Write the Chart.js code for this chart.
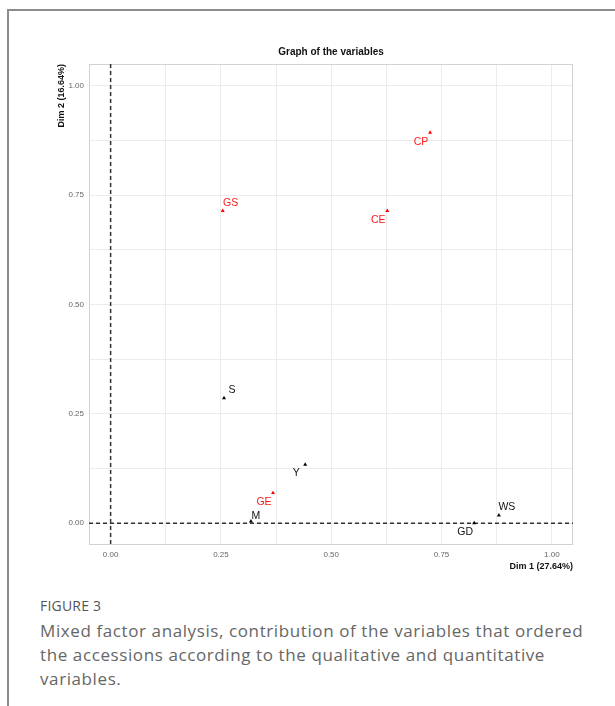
<!DOCTYPE html>
<html>
<head>
<meta charset="utf-8">
<script src="https://cdn.jsdelivr.net/npm/chart.js@4.4.0/dist/chart.umd.min.js"></script>
<style>
  body { margin: 0; background: #fff; width: 615px; height: 706px; overflow: hidden; position: relative; }
  #frame { position: absolute; left: 7px; top: 9px; width: 620px; height: 710px;
    border-left: 2px solid #8c8c8c; border-top: 2px solid #8c8c8c; }
  #chart { position: absolute; left: 0; top: 0; }
  #caption { position: absolute; left: 40px; top: 596px; width: 560px; font-family: "Open Sans", sans-serif; }
  #caption .fig { font-size: 14px; color: #555; line-height: 20px; letter-spacing: 0.2px; }
  #caption .txt { font-size: 17px; color: #666; line-height: 24px; margin-top: 3px; font-weight: 400; letter-spacing: 0.6px; }
</style>
</head>
<body>
<div id="frame"></div>
<canvas id="chart" width="615" height="580"></canvas>
<div id="caption">
  <div class="fig">FIGURE 3</div>
  <div class="txt">Mixed factor analysis, contribution of the variables that ordered the accessions according to the qualitative and quantitative variables.</div>
</div>
<script>
// quantitative variables (black)
const quantNames = ['S', 'Y', 'M', 'WS', 'GD'];
const quantDim1 = [0.257, 0.441, 0.318, 0.880, 0.824];
const quantDim2 = [0.286, 0.134, 0.004, 0.018, 0.000];

// qualitative variables (red)
const qualNames = ['GS', 'CP', 'CE', 'GE'];
const qualDim1 = [0.254, 0.724, 0.627, 0.368];
const qualDim2 = [0.714, 0.893, 0.714, 0.069];

const majorTicks = [0, 0.25, 0.5, 0.75, 1.0];
const gridTicks = [0, 0.125, 0.25, 0.375, 0.5, 0.625, 0.75, 0.875, 1.0];

function toPoints(xs, ys) {
  return xs.map(function (x, i) { return { x: x, y: ys[i] }; });
}

// where each label sits next to its point
const labelSide = { GS: 'ne', CP: 'sw', CE: 'sw', S: 'ne', Y: 'sw', GE: 'sw', M: 'near', WS: 'ne', GD: 'sw' };
const sideOffset = { ne: [8, -8], sw: [-9, 9], near: [5, -5] };

const axesPlugin = {
  id: 'axesPlugin',
  beforeDatasetsDraw(chart) {
    const ctx = chart.ctx;
    const a = chart.chartArea;
    const x0 = chart.scales.x.getPixelForValue(0);
    const y0 = chart.scales.y.getPixelForValue(0);
    ctx.save();
    ctx.strokeStyle = '#d2d2d2';
    ctx.lineWidth = 1;
    ctx.strokeRect(a.left + 0.5, a.top + 0.5, a.right - a.left - 1, a.bottom - a.top - 1);
    ctx.strokeStyle = '#333';
    ctx.lineWidth = 1.5;
    ctx.setLineDash([4, 3]);
    ctx.beginPath();
    ctx.moveTo(a.left, y0);
    ctx.lineTo(a.right, y0);
    ctx.moveTo(x0, a.top);
    ctx.lineTo(x0, a.bottom);
    ctx.stroke();
    ctx.restore();
  },
  afterDatasetsDraw(chart) {
    const ctx = chart.ctx;
    ctx.save();
    ctx.font = '10.5px "Liberation Sans", Arial, sans-serif';
    ctx.textAlign = 'center';
    ctx.textBaseline = 'middle';
    chart.data.datasets.forEach(function (ds, di) {
      const meta = chart.getDatasetMeta(di);
      ctx.fillStyle = ds.labelColor;
      meta.data.forEach(function (pt, i) {
        const name = ds.names[i];
        const off = sideOffset[labelSide[name]];
        ctx.fillText(name, pt.x + off[0], pt.y + off[1]);
      });
    });
    ctx.restore();
  }
};

const tickFont = { family: '"Liberation Sans", Arial, sans-serif', size: 8 };
const titleFont = { family: '"Liberation Sans", Arial, sans-serif', size: 9, weight: 'bold' };

function tickLabel(value) {
  return majorTicks.indexOf(value) >= 0 ? value.toFixed(2) : '';
}

new Chart(document.getElementById('chart'), {
  type: 'scatter',
  data: {
    datasets: [
      {
        label: 'Quantitative',
        names: quantNames,
        labelColor: '#111',
        data: toPoints(quantDim1, quantDim2),
        pointStyle: 'triangle',
        pointRadius: 2.3,
        backgroundColor: '#000',
        borderColor: '#000',
        borderWidth: 0
      },
      {
        label: 'Qualitative',
        names: qualNames,
        labelColor: '#ff1a1a',
        data: toPoints(qualDim1, qualDim2),
        pointStyle: 'triangle',
        pointRadius: 2.3,
        backgroundColor: '#ff0000',
        borderColor: '#ff0000',
        borderWidth: 0
      }
    ]
  },
  options: {
    responsive: false,
    animation: false,
    events: [],
    layout: { padding: { left: 55, top: 40, right: 42, bottom: 0 } },
    plugins: {
      legend: { display: false },
      tooltip: { enabled: false },
      title: {
        display: true,
        text: 'Graph of the variables',
        fullSize: false,
        color: '#111',
        font: { family: '"Liberation Sans", Arial, sans-serif', size: 10, weight: 'bold' },
        padding: { top: 6, bottom: 6 }
      }
    },
    scales: {
      x: {
        type: 'linear',
        min: -0.049,
        max: 1.048,
        afterBuildTicks: function (axis) { axis.ticks = gridTicks.map(function (v) { return { value: v }; }); },
        afterFit: function (axis) { axis.height = 35; },
        grid: { color: '#ececec', lineWidth: 1, drawTicks: false },
        border: { display: false },
        ticks: { color: '#666', font: tickFont, padding: 5, maxRotation: 0, autoSkip: false, callback: tickLabel },
        title: { display: true, text: 'Dim 1 (27.64%)', align: 'end', color: '#111', font: titleFont, padding: { top: 0, bottom: 8 } }
      },
      y: {
        type: 'linear',
        min: -0.05,
        max: 1.05,
        afterBuildTicks: function (axis) { axis.ticks = gridTicks.map(function (v) { return { value: v }; }); },
        afterFit: function (axis) { axis.width = 34; },
        grid: { color: '#ececec', lineWidth: 1, drawTicks: false },
        border: { display: false },
        ticks: { color: '#666', font: tickFont, padding: 5, autoSkip: false, callback: tickLabel },
        title: { display: true, text: 'Dim 2 (16.64%)', align: 'end', color: '#111', font: titleFont, padding: { top: 1, bottom: 0 } }
      }
    }
  },
  plugins: [axesPlugin]
});
</script>
</body>
</html>
